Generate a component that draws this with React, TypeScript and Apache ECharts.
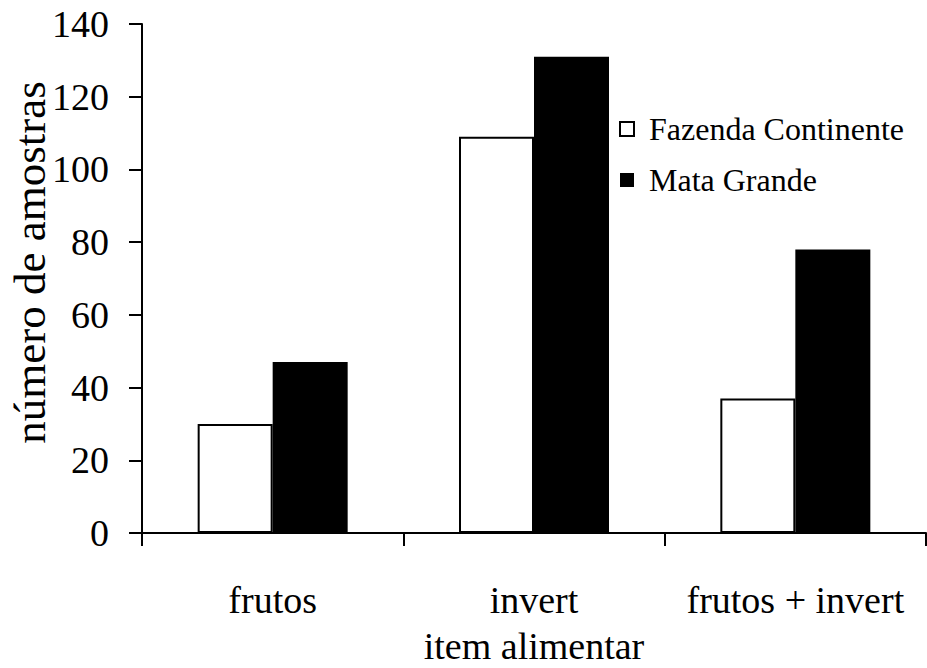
import React, { useEffect, useRef } from "react";
import * as echarts from "echarts";

const categories = ["frutos", "invert", "frutos + invert"];
const fazendaContinente = [30, 109, 37];
const mataGrande = [47, 131, 78];
const seriesNames = ["Fazenda Continente", "Mata Grande"];
const yMin = 0;
const yMax = 140;
const yInterval = 20;

const FONT = "'Liberation Serif', 'Times New Roman', serif";

export default function App() {
  const ref = useRef<HTMLDivElement>(null);
  useEffect(() => {
    document.body.style.margin = "0";
    const chart = echarts.init(ref.current!, null, { renderer: "svg" });
    chart.setOption({
      animation: false,
      backgroundColor: "#ffffff",
      textStyle: { fontFamily: FONT, color: "#000" },
      grid: { left: 142, right: 1, top: 24, bottom: 135, containLabel: false, outerBoundsMode: "none" },
      legend: {
        orient: "vertical",
        left: 614,
        top: 108,
        itemWidth: 14,
        itemHeight: 14,
        itemGap: 19,
        icon: "rect",
        textStyle: { fontFamily: FONT, fontSize: 32, color: "#000", padding: [0, 0, 0, 10] },
        data: seriesNames,
      },
      xAxis: {
        type: "category",
        data: categories,
        boundaryGap: true,
        name: "item alimentar",
        nameLocation: "middle",
        nameGap: 94,
        nameMoveOverlap: false,
        nameTextStyle: { fontFamily: FONT, fontSize: 38, lineHeight: 38, color: "#000" },
        axisLine: { show: true, lineStyle: { color: "#000", width: 2 } },
        axisTick: { show: true, length: 13, inside: false, lineStyle: { color: "#000", width: 2 } },
        axisLabel: { interval: 0, margin: 48, fontFamily: FONT, fontSize: 38, color: "#000" },
        splitLine: { show: false },
      },
      yAxis: {
        type: "value",
        min: yMin,
        max: yMax,
        interval: yInterval,
        name: "número de amostras",
        nameLocation: "middle",
        nameGap: 90,
        nameMoveOverlap: false,
        nameTextStyle: { fontFamily: FONT, fontSize: 45, lineHeight: 45, color: "#000", padding: [0, 0, 0, 32] },
        axisLine: { show: true, lineStyle: { color: "#000", width: 2 } },
        axisTick: { show: true, length: 13, inside: false, lineStyle: { color: "#000", width: 2 } },
        axisLabel: { margin: 33, fontFamily: FONT, fontSize: 38, color: "#000" },
        splitLine: { show: false },
      },
      series: [
        {
          name: seriesNames[0],
          type: "bar",
          data: fazendaContinente,
          barWidth: 75,
          barGap: "0%",
          itemStyle: { color: "#ffffff", borderColor: "#000", borderWidth: 2 },
        },
        {
          name: seriesNames[1],
          type: "bar",
          data: mataGrande,
          barWidth: 75,
          barGap: "0%",
          itemStyle: { color: "#000000", borderColor: "#000", borderWidth: 0 },
        },
      ],
    });
    return () => chart.dispose();
  }, []);
  return <div ref={ref} style={{ width: 927, height: 668 }} />;
}
